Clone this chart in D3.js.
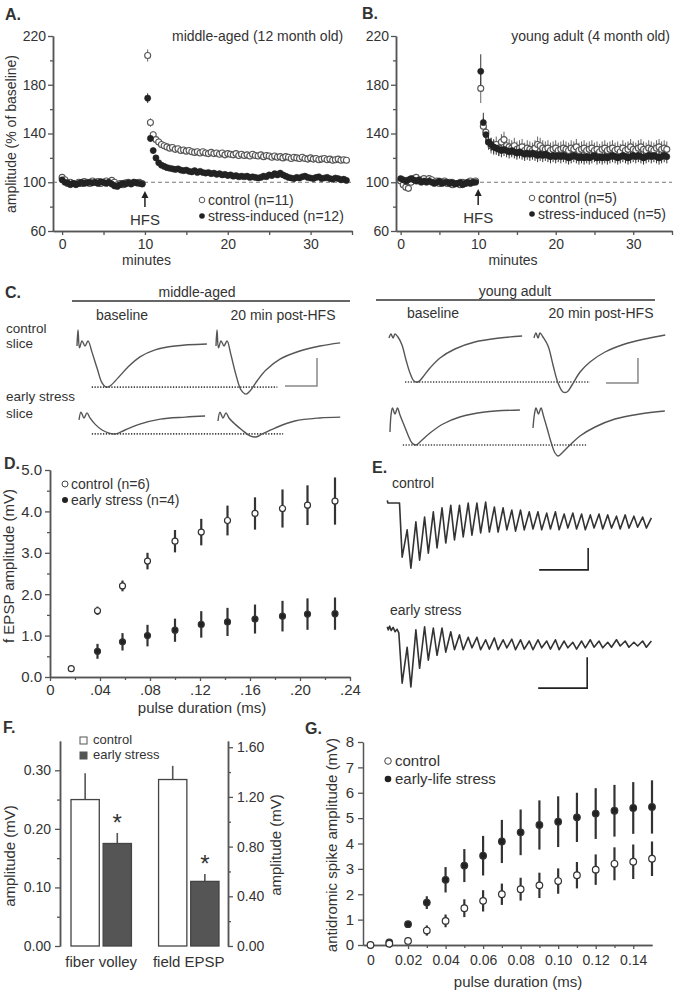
<!DOCTYPE html>
<html><head><meta charset="utf-8">
<script src="https://cdn.jsdelivr.net/npm/d3@7"></script>
<style>
body{margin:0;background:#fff}
svg{display:block;background:#fff}
text{font-family:"Liberation Sans",Arial,Helvetica,sans-serif;fill:#333}
</style></head>
<body><svg id="c" width="680" height="993"></svg>
<script>
// ---------------- DATA ----------------
// Panels A/B : LTP time course, % of baseline, one point every 20 s
const ltpStepMin = 1/3, ltpBaseStart = 0, ltpPostStart = 10.33, hfsTime = 10;
const ltpYMajor = [60,100,140,180,220], ltpYMinor = [80,120,160,200];
const ltpXMajor = [0,10,20,30], ltpXMinor = [5,15,25,35];

const aCtrlBase = [104,102,99,100,99,98.5,100,99,100.5,100,99,101,100,100.5,99,100,101,100,101.5,100,98,99,98,99.5,100,99,100,99.5,100,99];
const aStressBase = [102,100,99.5,98,99,98,99,100,99,99.5,100,99.5,100,99,100.5,100,99,100,98.5,97,96.5,98,99,98.5,99.5,98.5,100,99.5,99,98.5];
const aCtrlPost = [204,149,139,135,133,131,130,129,128,128.5,
 127,127.5,126,126.5,125.5,126,125,124.5,125,124,
 125,124,123.5,124.5,123.5,124,123,124,122.5,123.5,
 123,122.5,123.5,122,123,122,122.5,121.5,123,122,
 121.5,122.5,121,122,121.5,120.5,121.5,120.5,121,120,
 121,120.5,119.5,120.5,120,119.5,120.5,119.5,119,120,
 119,119.5,118.5,119,119.5,118.5,119,118,118.5,119,
 118,118.5,118];
const aStressPost = [169,136,126,120,116,114,113,112,111.5,111,
 110.5,111,110,109.5,110,109,108.5,109.5,108,109,
 108,107.5,108,107,107.5,106.5,107,106,106.5,105.5,
 106,105,105.5,104.5,105,104.5,105,104,104.5,104,
 103.5,104,105,104.5,106,105.5,107,106,107.5,106,
 105,104,103.5,103,104,103.5,104.5,105,104,103.5,
 103,104,104.5,103,103.5,104,103,102.5,103.5,103,
 102,102.5,101.5];
const aCtrlSemHead = [5,3.5,3], aCtrlSemTail = 2.5, aStressSemHead = [4,3,2.5], aStressSemTail = 1.5, aBaseSem = 1.2;

const bCtrlBase = [101,98,96,95,100,103,104,101,102,103,101,103,102,100,101,99,100,101,99,100,98,99,99,98,100,99,100,101,100,101];
const bStressBase = [103,102,101,102,103,102,101,102,100,101,100,101,100,99,100,101,99,100,100,99,100,98.5,99,100,98,99,100,99,100,100];
const bCtrlPost = [177,146,141,133,130,129,131,128,133,135,
 130,129,128,130,127,128,129,126,128,127,
 126,128,131,130,128,127,128,126,127,128,
 126,127,128,127,126,128,127,129,126,127,
 128,126,127,128,126,127,125,127,128,126,
 127,128,126,127,125,128,126,127,129,127,
 126,128,129,127,126,128,127,126,128,129,
 127,128,127];
const bStressPost = [191,149,139,133,131,129,128,127,126,127,
 126,125,126,125,124,125,124,123,124,123,
 124,123,122,123,122,123,122,121,122,121,
 122,121,122,121,120,121,122,121,120,121,
 120,121,120,121,122,120,121,120,121,120,
 121,122,121,120,121,122,121,120,121,122,
 121,122,121,120,121,122,121,122,121,120,
 121,122,121];
const bCtrlSemHead = [12,7,6], bCtrlSemTail = 6.5, bStressSemHead = [14,8,6], bStressSemTail = 5.5, bBaseSem = 1.8;

// Panel C : fEPSP traces, [time ms, voltage mV]
const cMidCtrlBase = [[0,-0.07],[0.16,0.5],[0.39,-0.14],[0.78,0.11],[1.25,-0.07],[1.72,0.11],[2.34,-0.29],[3.13,-0.86],[3.91,-1.39],[4.53,-1.54],[5.16,-1.5],[6.41,-1.21],[7.97,-0.82],[9.84,-0.46],[12.2,-0.21],[15.3,-0.07],[20.3,0]];
const cMidCtrlPost = [[0,-0.07],[0.16,0.5],[0.39,-0.14],[0.78,0.11],[1.25,-0.07],[1.72,0.11],[2.34,-0.39],[3.13,-1.11],[3.91,-1.64],[4.69,-1.79],[5.31,-1.68],[6.41,-1.32],[7.81,-0.93],[10.0,-0.54],[13.1,-0.25],[16.25,-0.07],[19.4,0.04]];
const cMidStressBase = [[0,-0.14],[0.31,0.14],[0.78,-0.07],[1.25,0.11],[1.72,-0.07],[2.5,-0.29],[3.6,-0.5],[4.7,-0.61],[5.8,-0.64],[7.2,-0.5],[9.5,-0.29],[12.7,-0.11],[16.6,-0.04],[19.7,0]];
const cMidStressPost = [[0,-0.18],[0.31,0.14],[0.78,-0.07],[1.25,0.11],[1.72,-0.07],[2.66,-0.29],[3.75,-0.5],[5.0,-0.71],[5.94,-0.75],[6.9,-0.64],[8.9,-0.43],[12.0,-0.18],[15.9,-0.07],[19.1,-0.04]];
const cYoungCtrlBase = [[0,-0.08],[0.31,0.08],[0.63,-0.08],[0.94,0.08],[1.4,-0.04],[2.03,-0.36],[2.66,-0.96],[3.28,-1.48],[3.9,-1.8],[4.53,-1.84],[5.3,-1.64],[6.4,-1.28],[7.97,-0.88],[10.3,-0.52],[13.4,-0.24],[17.3,-0.08],[20.8,0]];
const cYoungCtrlPost = [[0,-0.08],[0.31,0.12],[0.63,-0.08],[0.94,0.12],[1.4,-0.04],[2.2,-0.4],[2.97,-1.16],[3.75,-1.88],[4.53,-2.24],[5.16,-2.24],[5.94,-1.96],[7.2,-1.44],[8.75,-1.04],[11.1,-0.64],[14.2,-0.32],[17.3,-0.12],[20.5,0.04]];
const cYoungStressBase = [[0,-0.88],[0.16,-0.2],[0.39,0.08],[0.78,-0.16],[1.17,0.08],[1.56,-0.2],[2.19,-0.6],[2.81,-1.0],[3.44,-1.32],[4.06,-1.4],[4.84,-1.24],[6.25,-0.92],[8.28,-0.56],[10.9,-0.28],[14.8,-0.08],[20.3,0]];
const cYoungStressPost = [[0,-0.72],[0.23,-0.16],[0.47,0.08],[0.86,-0.16],[1.25,0.08],[1.64,-0.24],[2.19,-0.72],[2.81,-1.28],[3.44,-1.72],[3.9,-1.84],[4.53,-1.72],[5.78,-1.4],[7.34,-1.04],[9.7,-0.68],[12.8,-0.36],[16.7,-0.16],[20.6,-0.04]];

// Panel D : input/output, pulse duration (ms) vs fEPSP amplitude (mV)
const dPulse = [0.017,0.038,0.058,0.078,0.100,0.121,0.142,0.164,0.186,0.206,0.228];
const dCtrl = [0.2,1.6,2.2,2.8,3.28,3.5,3.78,3.95,4.07,4.15,4.25];
const dCtrlErr = [0.05,0.1,0.13,0.2,0.27,0.32,0.36,0.39,0.46,0.48,0.57];
const dStress = [null,0.62,0.85,1.0,1.13,1.27,1.33,1.4,1.47,1.52,1.53];
const dStressErr = [null,0.18,0.21,0.26,0.28,0.32,0.34,0.35,0.37,0.38,0.39];
const dXTicks = [0,0.04,0.08,0.12,0.16,0.20,0.24], dYTicks = [0,1,2,3,4,5];

// Panel E : high-frequency train responses, per stimulus trough / peak (mV)
const eStimIntervalMs = 8.9;
const eCtrlPre = [[-13,0.06],[-12.3,0],[-0.5,0]];
const eCtrlTroughs = [-1.23,-1.48,-1.30,-1.14,-1.02,-0.91,-0.84,-0.77,-0.73,-0.68,-0.66,-0.66,-0.61,-0.64,-0.61,-0.59,-0.61,-0.59,-0.61,-0.57,-0.59,-0.61,-0.57,-0.59,-0.57,-0.59,-0.57,-0.55,-0.57];
const eCtrlPeaks = [-0.61,-0.43,-0.32,-0.20,-0.11,-0.05,-0.05,0,0,0.02,-0.09,-0.11,-0.16,-0.16,-0.20,-0.20,-0.23,-0.20,-0.25,-0.23,-0.25,-0.27,-0.25,-0.27,-0.30,-0.27,-0.30,-0.32,-0.34];
const eStressPre = [[-13,0.02],[-12,-0.03],[-10.5,0.03],[-9,-0.04],[-7,0.01],[-5,-0.06],[-3,-0.02],[-1.2,-0.08]];
const eStressTroughs = [-0.89,-0.95,-0.65,-0.52,-0.44,-0.39,-0.35,-0.35,-0.32,-0.35,-0.34,-0.35,-0.32,-0.35,-0.34,-0.35,-0.32,-0.34,-0.35,-0.32,-0.34,-0.32,-0.31,-0.32,-0.31,-0.29,-0.31,-0.29,-0.31];
const eStressPeaks = [-0.31,-0.03,0.02,0,0,-0.06,-0.11,-0.15,-0.15,-0.19,-0.16,-0.19,-0.18,-0.19,-0.21,-0.19,-0.21,-0.19,-0.21,-0.23,-0.21,-0.19,-0.21,-0.23,-0.19,-0.21,-0.23,-0.21,-0.21];

// Panel F : bar chart
const fGroups = ["fiber volley","field EPSP"];
const fConds = ["control","early stress"];
const fMeans = {"fiber volley":[0.25,0.175], "field EPSP":[1.34,0.52]};
const fErrs  = {"fiber volley":[0.045,0.018], "field EPSP":[0.11,0.06]};
const fSig = [false,true];
const fLeftTicks = [0,0.10,0.20,0.30], fRightTicks = [0,0.4,0.8,1.2,1.6];

// Panel G : antidromic spike amplitude
const gPulse = [0,0.01,0.02,0.03,0.04,0.05,0.06,0.07,0.08,0.09,0.10,0.11,0.12,0.13,0.14,0.15];
const gCtrl = [0.0,0.05,0.16,0.57,0.95,1.45,1.74,2.0,2.2,2.35,2.52,2.75,2.97,3.2,3.28,3.4];
const gCtrlErr = [0,0.02,0.05,0.2,0.25,0.35,0.42,0.42,0.45,0.5,0.5,0.52,0.6,0.65,0.68,0.68];
const gStress = [null,0.1,0.82,1.67,2.57,3.13,3.52,4.08,4.44,4.73,4.86,5.03,5.18,5.29,5.4,5.44];
const gStressErr = [null,0.03,0.12,0.25,0.5,0.65,0.78,0.85,0.9,0.97,1.0,0.97,1.0,1.02,1.02,1.05];
const gXTicks = [0,0.02,0.04,0.06,0.08,0.10,0.12,0.14], gYTicks = [0,1,2,3,4,5,6,7,8];

// ---------------- DRAWING ----------------
const svg = d3.select("#c");
const INK = "#333", AX = "#555";

function styleAxis(g, size) {
  g.attr("font-size", size || 14);
  g.select(".domain").attr("stroke", AX).attr("stroke-width", 1.5);
  g.selectAll(".tick line").attr("stroke", AX).attr("stroke-width", 1.3);
  g.selectAll(".tick text").attr("fill", INK);
}
function label(txt, x, y, opt) {
  opt = opt || {};
  const t = svg.append("text").attr("x", x).attr("y", y).text(txt)
    .attr("font-size", opt.size || 14).attr("text-anchor", opt.anchor || "start");
  if (opt.bold) t.attr("font-weight", "bold");
  if (opt.rotate) t.attr("transform", `rotate(-90,${x},${y})`).attr("dominant-baseline", "middle");
  return t;
}

// ---- Panels A & B ----
function addLTP(cfg) {
  const x = d3.scaleLinear().domain(cfg.xDomain).range(cfg.xRange);
  const y = d3.scaleLinear().domain([60, 220]).range([231, 36]);
  const g = svg.append("g");
  const [x0, x1] = cfg.xRange;
  g.append("line").attr("x1", x0).attr("x2", x1).attr("y1", y(100)).attr("y2", y(100))
    .attr("stroke", "#777").attr("stroke-width", 1.2).attr("stroke-dasharray", "4,3");
  g.append("g").attr("transform", `translate(${x0},0)`)
    .call(d3.axisLeft(y).tickValues(ltpYMinor).tickSize(3).tickSizeOuter(0).tickFormat("")).call(styleAxis);
  g.append("g").attr("transform", `translate(${x0},0)`)
    .call(d3.axisLeft(y).tickValues(ltpYMajor).tickSize(5).tickSizeOuter(0).tickPadding(2)).call(styleAxis);
  g.append("g").attr("transform", `translate(0,${y(60)})`)
    .call(d3.axisBottom(x).tickValues(ltpXMinor).tickSize(4).tickSizeOuter(0).tickFormat("")).call(styleAxis);
  g.append("g").attr("transform", `translate(0,${y(60)})`)
    .call(d3.axisBottom(x).tickValues(ltpXMajor).tickSize(4).tickSizeOuter(0).tickPadding(4)).call(styleAxis);

  function series(base, post, baseSem, head, tail) {
    return base.map((v, i) => ({t: ltpBaseStart + i * ltpStepMin, v, e: baseSem}))
      .concat(post.map((v, i) => ({t: ltpPostStart + i * ltpStepMin, v, e: head[i] !== undefined ? head[i] : tail})));
  }
  const ctrl = series(cfg.ctrlBase, cfg.ctrlPost, cfg.baseSem, cfg.ctrlHead, cfg.ctrlTail);
  const str = series(cfg.strBase, cfg.strPost, cfg.baseSem, cfg.strHead, cfg.strTail);
  [ctrl, str].forEach((s, k) => {
    g.append("g").selectAll("line").data(s).join("line")
      .attr("x1", d => x(d.t)).attr("x2", d => x(d.t))
      .attr("y1", d => y(d.v - d.e)).attr("y2", d => y(d.v + d.e))
      .attr("stroke", k ? "#333" : "#666").attr("stroke-width", 1);
  });
  g.append("g").selectAll("circle").data(ctrl).join("circle")
    .attr("cx", d => x(d.t)).attr("cy", d => y(d.v)).attr("r", 3)
    .attr("fill", "#fff").attr("stroke", "#555").attr("stroke-width", 1.1);
  g.append("g").selectAll("circle").data(str).join("circle")
    .attr("cx", d => x(d.t)).attr("cy", d => y(d.v)).attr("r", 3.1)
    .attr("fill", "#222").attr("stroke", "#222").attr("stroke-width", 0.5);

  // HFS arrow
  const ax = x(hfsTime);
  g.append("line").attr("x1", ax).attr("x2", ax).attr("y1", cfg.arrowY + 15).attr("y2", cfg.arrowY + 3)
    .attr("stroke", "#222").attr("stroke-width", 1.5);
  g.append("path").attr("d", `M${ax - 3.5},${cfg.arrowY + 6}L${ax},${cfg.arrowY - 1}L${ax + 3.5},${cfg.arrowY + 6}Z`).attr("fill", "#222");
  label("HFS", ax, cfg.arrowY + 33, {anchor: "middle", size: 15});
  // legend
  g.append("circle").attr("cx", cfg.legX).attr("cy", cfg.legY).attr("r", 2.8).attr("fill", "#fff").attr("stroke", "#555");
  label(cfg.ctrlLabel, cfg.legX + 6, cfg.legY + 5, {size: 14});
  g.append("circle").attr("cx", cfg.legX).attr("cy", cfg.legY + 16).attr("r", 2.8).attr("fill", "#222");
  label(cfg.strLabel, cfg.legX + 6, cfg.legY + 21, {size: 14});
  label("minutes", x(cfg.minutesAt), 265, {anchor: "middle", size: 14});
}

addLTP({xDomain: [-1.1, 35], xRange: [53, 352], ctrlBase: aCtrlBase, ctrlPost: aCtrlPost, strBase: aStressBase, strPost: aStressPost,
  baseSem: aBaseSem, ctrlHead: aCtrlSemHead, ctrlTail: aCtrlSemTail, strHead: aStressSemHead, strTail: aStressSemTail,
  arrowY: 192, legX: 202, legY: 200, ctrlLabel: "control (n=11)", strLabel: "stress-induced (n=12)", minutesAt: 10.2});
addLTP({xDomain: [-0.6, 35], xRange: [396, 672], ctrlBase: bCtrlBase, ctrlPost: bCtrlPost, strBase: bStressBase, strPost: bStressPost,
  baseSem: bBaseSem, ctrlHead: bCtrlSemHead, ctrlTail: bCtrlSemTail, strHead: bStressSemHead, strTail: bStressSemTail,
  arrowY: 190, legX: 532, legY: 198, ctrlLabel: "control (n=5)", strLabel: "stress-induced (n=5)", minutesAt: 14.5});

label("A.", 5, 20, {bold: true, size: 16});
label("B.", 362, 19, {bold: true, size: 16});
label("middle-aged (12 month old)", 172, 41, {size: 14});
label("young adult (4 month old)", 670, 41, {size: 14, anchor: "end"});
label("amplitude (% of baseline)", 12, 134, {rotate: true, anchor: "middle", size: 14});

// ---- Panel C ----
label("C.", 5, 298, {bold: true, size: 16});
svg.append("line").attr("x1", 72).attr("x2", 350).attr("y1", 301).attr("y2", 301).attr("stroke", "#333").attr("stroke-width", 1.6);
svg.append("line").attr("x1", 376).attr("x2", 655).attr("y1", 300).attr("y2", 300).attr("stroke", "#333").attr("stroke-width", 1.6);
label("middle-aged", 197, 297, {anchor: "middle"});
label("young adult", 515, 296, {anchor: "middle"});
label("baseline", 122, 320, {anchor: "middle"});
label("20 min post-HFS", 283, 320, {anchor: "middle"});
label("baseline", 433, 318, {anchor: "middle"});
label("20 min post-HFS", 601, 318, {anchor: "middle"});
label("control", 6, 333, {size: 13.5}); label("slice", 6, 348, {size: 13.5});
label("early stress", 6, 401, {size: 13.5}); label("slice", 6, 418, {size: 13.5});

function addTraceGroup(cfg) {
  const pxPerMs = 6.4;
  const mk = (x0, y0) => ({
    x: d3.scaleLinear().domain([0, 10]).range([x0, x0 + 10 * pxPerMs]),
    y: d3.scaleLinear().domain([0, 1]).range([y0, y0 - cfg.pxPerMv])
  });
  cfg.traces.forEach(tr => {
    const s = mk(tr.x0, tr.y0);
    const line = d3.line().x(d => s.x(d[0])).y(d => s.y(d[1])).curve(d3.curveCatmullRom.alpha(0.5));
    svg.append("path").attr("d", line(tr.data)).attr("fill", "none").attr("stroke", "#555").attr("stroke-width", 1.4);
    if (tr.dots) {
      const lvl = d3.min(tr.data, d => d[1]);
      svg.append("line").attr("x1", s.x(tr.dots[0])).attr("x2", s.x(tr.dots[1]))
        .attr("y1", s.y(lvl)).attr("y2", s.y(lvl))
        .attr("stroke", "#444").attr("stroke-width", 1.6).attr("stroke-dasharray", "1.3,1.5");
    }
  });
  const s = mk(cfg.bar.x0, cfg.bar.y0);
  const c = cfg.bar;
  svg.append("path").attr("d", `M${s.x(c.t - 5)},${s.y(c.v)}H${s.x(c.t)}V${s.y(c.v + 1)}`)
    .attr("fill", "none").attr("stroke", "#888").attr("stroke-width", 1.5);
}
addTraceGroup({pxPerMv: 28, traces: [
  {data: cMidCtrlBase, x0: 77, y0: 344, dots: [2.3, 31.3]},
  {data: cMidCtrlPost, x0: 216, y0: 344},
  {data: cMidStressBase, x0: 79, y0: 416, dots: [2.0, 31.9]},
  {data: cMidStressPost, x0: 218, y0: 416}],
  bar: {x0: 77, y0: 344, t: 37.5, v: -1.5}});
addTraceGroup({pxPerMv: 25, traces: [
  {data: cYoungCtrlBase, x0: 389, y0: 336, dots: [2.5, 31.4]},
  {data: cYoungCtrlPost, x0: 534, y0: 336},
  {data: cYoungStressBase, x0: 390, y0: 410, dots: [2.0, 30.8]},
  {data: cYoungStressPost, x0: 533, y0: 410}],
  bar: {x0: 389, y0: 336, t: 38.9, v: -1.88}});

// ---- Panel D ----
(function () {
  const x = d3.scaleLinear().domain([0, 0.24]).range([50, 350]);
  const y = d3.scaleLinear().domain([0, 5]).range([677, 470]);
  const g = svg.append("g");
  g.append("g").attr("transform", "translate(50,0)").call(d3.axisLeft(y).tickValues(d3.range(0.5, 5, 1)).tickSize(3).tickSizeOuter(0).tickFormat("")).call(styleAxis);
  g.append("g").attr("transform", "translate(50,0)").call(d3.axisLeft(y).tickValues(dYTicks).tickSize(5).tickSizeOuter(0).tickPadding(3)).call(styleAxis, 15);
  g.append("g").attr("transform", "translate(0,677)").call(d3.axisBottom(x).tickValues(d3.range(0.02, 0.24, 0.04)).tickSize(3).tickSizeOuter(0).tickFormat("")).call(styleAxis);
  g.append("g").attr("transform", "translate(0,677)").call(d3.axisBottom(x).tickValues(dXTicks).tickSize(4).tickSizeOuter(0).tickPadding(3)
    .tickFormat(d => d === 0 ? "0" : d3.format(".2f")(d).replace(/^0/, ""))).call(styleAxis, 15);
  const pts = (vals, errs) => dPulse.map((p, i) => ({p, v: vals[i], e: errs[i]})).filter(d => d.v !== null);
  [[pts(dStress, dStressErr), "#222"], [pts(dCtrl, dCtrlErr), "#fff"]].forEach(([s, fill]) => {
    g.append("g").selectAll("line").data(s).join("line")
      .attr("x1", d => x(d.p)).attr("x2", d => x(d.p)).attr("y1", d => y(d.v - d.e)).attr("y2", d => y(d.v + d.e))
      .attr("stroke", "#333").attr("stroke-width", 2.2);
    g.append("g").selectAll("circle").data(s).join("circle")
      .attr("cx", d => x(d.p)).attr("cy", d => y(d.v)).attr("r", 3)
      .attr("fill", fill).attr("stroke", "#333").attr("stroke-width", 1.2);
  });
  g.append("circle").attr("cx", 65).attr("cy", 484).attr("r", 3).attr("fill", "#fff").attr("stroke", "#444");
  label("control (n=6)", 71, 489);
  g.append("circle").attr("cx", 65).attr("cy", 500).attr("r", 3).attr("fill", "#222");
  label("early stress (n=4)", 71, 505);
  label("pulse duration (ms)", 202, 713, {anchor: "middle", size: 15});
  label("f EPSP amplitude (mV)", 10, 566, {rotate: true, anchor: "middle", size: 15});
  label("D.", 4, 469, {bold: true, size: 16});
})();

// ---- Panel E ----
(function () {
  const x = d3.scaleLinear().domain([0, 100]).range([400, 498]);
  function trace(pre, troughs, peaks, y0, pxPerMv, bar) {
    const y = d3.scaleLinear().domain([0, 1]).range([y0, y0 - pxPerMv]);
    const pts = pre.slice();
    troughs.forEach((v, i) => {
      pts.push([i * eStimIntervalMs + 2.2, v]);
      pts.push([i * eStimIntervalMs + 7.3, peaks[i]]);
    });
    svg.append("path").attr("d", d3.line().x(d => x(d[0])).y(d => y(d[1]))(pts))
      .attr("fill", "none").attr("stroke", "#333").attr("stroke-width", 1.6).attr("stroke-linejoin", "round");
    svg.append("path").attr("d", `M${x(bar.t - 50)},${y(bar.v)}H${x(bar.t)}V${y(bar.v + 0.5)}`)
      .attr("fill", "none").attr("stroke", "#222").attr("stroke-width", 1.6);
  }
  trace(eCtrlPre, eCtrlTroughs, eCtrlPeaks, 503, 44, {t: 192, v: -1.52});
  trace(eStressPre, eStressTroughs, eStressPeaks, 628, 62, {t: 191, v: -0.97});
  label("E.", 372, 473, {bold: true, size: 16});
  label("control", 392, 488);
  label("early stress", 390, 615);
})();

// ---- Panel F ----
(function () {
  const yL = d3.scaleLinear().domain([0, 0.35]).range([946, 741]);
  const yR = d3.scaleLinear().domain([0, 1.65]).range([946, 741]);
  const x0 = d3.scaleBand().domain(fGroups).range([64, 226]).paddingInner(0.31).paddingOuter(0.08);
  const x1 = d3.scaleBand().domain(fConds).range([0, x0.bandwidth()]).paddingInner(0.12);
  const g = svg.append("g");
  g.append("g").attr("transform", "translate(60,0)").call(d3.axisLeft(yL).tickValues(d3.range(0.05, 0.35, 0.1)).tickSize(3).tickSizeOuter(0).tickFormat("")).call(styleAxis);
  g.append("g").attr("transform", "translate(60,0)").call(d3.axisLeft(yL).tickValues(fLeftTicks).tickSize(5).tickSizeOuter(0).tickPadding(4).tickFormat(d3.format(".2f"))).call(styleAxis);
  g.append("g").attr("transform", "translate(228,0)").call(d3.axisRight(yR).tickValues([0.2, 0.6, 1.0, 1.4]).tickSize(3).tickSizeOuter(0).tickFormat("")).call(styleAxis);
  g.append("g").attr("transform", "translate(228,0)").call(d3.axisRight(yR).tickValues(fRightTicks).tickSize(5).tickSizeOuter(0).tickPadding(4).tickFormat(d3.format(".2f"))).call(styleAxis);
  fGroups.forEach((grp, gi) => {
    const y = gi === 0 ? yL : yR;
    fConds.forEach((c, ci) => {
      const bx = x0(grp) + x1(c), bw = x1.bandwidth(), m = fMeans[grp][ci], e = fErrs[grp][ci];
      g.append("line").attr("x1", bx + bw / 2).attr("x2", bx + bw / 2).attr("y1", y(m)).attr("y2", y(m + e))
        .attr("stroke", "#555").attr("stroke-width", 1.6);
      g.append("rect").attr("x", bx).attr("width", bw).attr("y", y(m)).attr("height", y(0) - y(m))
        .attr("fill", ci ? "#555" : "#fff").attr("stroke", "#444").attr("stroke-width", 1.3);
      if (ci === 1 && fSig[1]) label("*", bx + bw / 2, y(m + e) - 2, {anchor: "middle", size: 24});
    });
    label(grp, x0(grp) + x0.bandwidth() / 2, 967, {anchor: "middle", size: 15});
  });
  g.append("rect").attr("x", 80).attr("y", 737).attr("width", 7).attr("height", 7).attr("fill", "#fff").attr("stroke", "#555");
  label("control", 93, 744, {size: 13});
  g.append("rect").attr("x", 80).attr("y", 752).attr("width", 7).attr("height", 7).attr("fill", "#555").attr("stroke", "#555");
  label("early stress", 93, 759, {size: 13});
  label("amplitude (mV)", 11, 856, {rotate: true, anchor: "middle", size: 15});
  label("amplitude (mV)", 277, 845, {rotate: true, anchor: "middle", size: 15});
  label("F.", 3, 733, {bold: true, size: 16});
})();

// ---- Panel G ----
(function () {
  const x = d3.scaleLinear().domain([-0.004, 0.15]).range([363, 652]);
  const y = d3.scaleLinear().domain([0, 8]).range([945, 742]);
  const g = svg.append("g");
  g.append("g").attr("transform", "translate(363,0)").call(d3.axisLeft(y).tickValues(gYTicks).tickSize(5).tickSizeOuter(0).tickPadding(4)).call(styleAxis, 15);
  g.append("g").attr("transform", "translate(0,945)").call(d3.axisBottom(x).tickValues(d3.range(0.01, 0.15, 0.02)).tickSize(3).tickSizeOuter(0).tickFormat("")).call(styleAxis);
  g.append("g").attr("transform", "translate(0,945)").call(d3.axisBottom(x).tickValues(gXTicks).tickSize(4).tickSizeOuter(0).tickPadding(6)
    .tickFormat(d => d === 0 ? "0" : d3.format(".2f")(d))).call(styleAxis, 14);
  const pts = (vals, errs) => gPulse.map((p, i) => ({p, v: vals[i], e: errs[i]})).filter(d => d.v !== null);
  [[pts(gStress, gStressErr), "#222"], [pts(gCtrl, gCtrlErr), "#fff"]].forEach(([s, fill]) => {
    g.append("g").selectAll("line").data(s).join("line")
      .attr("x1", d => x(d.p)).attr("x2", d => x(d.p)).attr("y1", d => y(d.v - d.e)).attr("y2", d => y(d.v + d.e))
      .attr("stroke", "#333").attr("stroke-width", 2.2);
    g.append("g").selectAll("circle").data(s).join("circle")
      .attr("cx", d => x(d.p)).attr("cy", d => y(d.v)).attr("r", 3.3)
      .attr("fill", fill).attr("stroke", "#333").attr("stroke-width", 1.2);
  });
  g.append("circle").attr("cx", 388).attr("cy", 761).attr("r", 3.3).attr("fill", "#fff").attr("stroke", "#444");
  label("control", 395, 766, {size: 15});
  g.append("circle").attr("cx", 388).attr("cy", 779).attr("r", 3.3).attr("fill", "#222");
  label("early-life stress", 395, 784, {size: 15});
  label("pulse duration (ms)", 518, 987, {anchor: "middle", size: 15});
  label("antidromic spike amplitude (mV)", 333, 845, {rotate: true, anchor: "middle", size: 15});
  label("G.", 305, 734, {bold: true, size: 16});
})();
</script>
</body></html>
